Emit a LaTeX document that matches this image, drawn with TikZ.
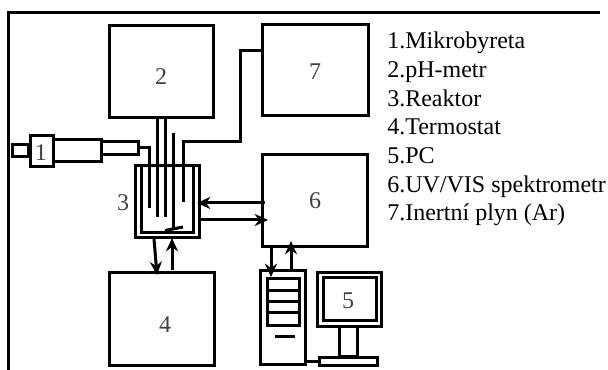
\documentclass[tikz,border=0pt]{standalone}
\usepackage{fontspec}
\setmainfont{Liberation Serif}
\usetikzlibrary{arrows.meta}
\tikzset{
    blok/.style 2 args={draw,line width=2.25pt,inner sep=0pt,minimum width=#1*0.75pt,minimum height=#2*0.75pt},
    line/.style={line width=2.25pt},
    thinline/.style={line width=2.25pt},
    arrowline/.style={line width=2.25pt,-{Stealth[length=10pt,width=9pt]}},
    num/.style={font=\fontsize{18}{18}\selectfont,text=black!75,inner sep=0pt},
    legend/.style={font=\fontsize{18}{21.5}\selectfont,align=left,anchor=north west,inner sep=0pt},
}
\begin{document}
\begin{tikzpicture}[x=0.75pt,y=-0.75pt]
    \useasboundingbox (0,0) rectangle (608,370);

    % ramecek
    \coordinate (rohA) at (8,370);
    \coordinate (rohB) at (8,13);
    \coordinate (rohC) at (600,13);
    \draw[line width=2.25pt] (rohA) -- (rohB) -- (rohC);

    % bloky
    \node[blok={104}{92}] (metr) at (161,72) {};
    \node[num] (n2) at (161,77) {2};
    \node[blok={106}{91}] (plyn) at (315,70.5) {};
    \node[num] (n7) at (315,72) {7};
    \node[blok={105}{92}] (spektr) at (314.5,201) {};
    \node[num] (n6) at (315,201) {6};
    \node[blok={105}{93}] (termo) at (161.5,319.5) {};
    \node[num] (n4) at (165,325) {4};

    % mikrobyreta
    \node[blok={16}{12}] (piston) at (20,151) {};
    \node[blok={23}{31}] (drzak) at (41.5,151.5) {};
    \node[num] (n1) at (41,153) {1};
    \node[blok={48}{22}] (valec) at (77,151) {};
    \node[blok={37}{13}] (spicka) at (119.5,148.5) {};

    % reaktor
    \node[blok={64}{72}] (reaktor) at (167.5,202) {};
    \coordinate (vnitrA) at (141,166);
    \coordinate (vnitrB) at (141,233);
    \coordinate (vnitrC) at (193,233);
    \coordinate (vnitrD) at (193,166);
    \draw[thinline] (vnitrA) -- (vnitrB) -- (vnitrC) -- (vnitrD);
    \node[num] (n3) at (123,203) {3};
    \coordinate (kapA) at (149,148);
    \coordinate (kapB) at (149,208);
    \draw[thinline] (spicka.east |- kapA) -- (kapA) -- (kapB);
    \coordinate (elA) at (157,217);
    \coordinate (elB) at (165,217);
    \draw[thinline] (elA |- metr.south) -- (elA);
    \draw[thinline] (elB |- metr.south) -- (elB);
    \coordinate (hridelA) at (173,133);
    \coordinate (hridelB) at (173,230);
    \draw[thinline] (hridelA) -- (hridelB);
    \coordinate (michA) at (165,230.5);
    \coordinate (michB) at (183,227);
    \draw[line] (michA) -- (michB);
    \coordinate (arA) at (183,202);
    \coordinate (arB) at (183,142);
    \coordinate (arC) at (240,142);
    \coordinate (arD) at (240,51);
    \draw[thinline] (arA) -- (arB) -- (arC) -- (arD) -- (arD -| plyn.west);

    % sipky
    \coordinate (sipA) at (265,203);
    \coordinate (sipB) at (197,203);
    \draw[arrowline] (sipA) -- (sipB);
    \coordinate (sipC) at (200,220);
    \coordinate (sipD) at (268,220);
    \draw[arrowline] (sipC) -- (sipD);
    \coordinate (sipE) at (154,239);
    \coordinate (sipF) at (157,275);
    \draw[arrowline] (sipE) -- (sipF);
    \coordinate (sipG) at (172,270);
    \coordinate (sipH) at (172,238);
    \draw[arrowline] (sipG) -- (sipH);
    \coordinate (sipI) at (271,247);
    \coordinate (sipJ) at (271,277);
    \draw[arrowline] (sipI) -- (sipJ);
    \coordinate (sipK) at (291,272);
    \coordinate (sipL) at (291,241);
    \draw[arrowline] (sipK) -- (sipL);

    % pc
    \node[blok={45}{94}] (skrin) at (282.5,318) {};
    \node[blok={32}{47}] (mechaniky) at (283,302.5) {};
    \draw[thinline] (mechaniky.west |- 0,291) -- (mechaniky.east |- 0,291);
    \draw[thinline] (mechaniky.west |- 0,302) -- (mechaniky.east |- 0,302);
    \draw[thinline] (mechaniky.west |- 0,313) -- (mechaniky.east |- 0,313);
    \coordinate (tlacA) at (275,337);
    \coordinate (tlacB) at (295,337);
    \draw[line] (tlacA) -- (tlacB);
    \node[blok={64}{54}] (monitor) at (349,300) {};
    \node[blok={53}{43}] (obraz) at (349.5,299.5) {};
    \node[num] (n5) at (348,301) {5};
    \node[blok={18}{30}] (noha) at (348,342) {};
    \node[blok={58}{8}] (podstavec) at (348,362) {};
    \draw[thinline] (skrin.east |- podstavec) -- (podstavec.west);

    % legenda
    \node[legend] (popis) at (387,32) {1.Mikrobyreta\\2.pH-metr\\3.Reaktor\\4.Termostat\\5.PC\\6.UV/VIS spektrometr\\7.Inertní plyn (Ar)};
\end{tikzpicture}
\end{document}
